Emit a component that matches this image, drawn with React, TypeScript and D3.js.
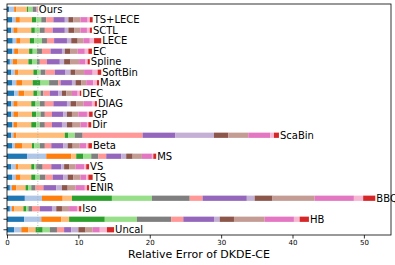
import React, { useRef, useEffect } from 'react';
import * as d3 from 'd3';

const methods = ['Ours', 'TS+LECE', 'SCTL', 'LECE', 'EC', 'Spline', 'SoftBin', 'Max', 'DEC', 'DIAG', 'GP', 'Dir',
  'ScaBin', 'Beta', 'MS', 'VS', 'TS', 'ENIR', 'BBQ', 'Iso', 'HB', 'Uncal'];

// one value per dataset/model setting, stacked left to right
const ours = [0.3, 0.7, 0.3, 1.5, 0.2, 0.6, 0.5, 0.05, 0.05, 0.02, 0.02, 0.02, 0.02, 0.02, 0.02];
const tsLece = [0.7, 0.5, 0.6, 1.7, 0.6, 0.7, 0.7, 1.0, 1.6, 0.5, 0.7, 1.0, 1.0, 0.3, 0.4];
const sctl = [0.6, 0.3, 0.6, 1.9, 0.5, 0.7, 0.7, 1.1, 1.7, 0.5, 0.8, 0.9, 0.9, 0.4, 0.3];
const lece = [0.8, 0.5, 0.6, 1.3, 0.6, 1.1, 0.7, 1.0, 1.8, 0.6, 0.9, 0.8, 0.9, 0.6, 1.0];
const ec = [0.7, 0.3, 0.6, 1.5, 0.5, 0.6, 0.7, 1.2, 1.6, 0.4, 0.8, 1.0, 1.0, 0.5, 0.5];
const spline = [0.4, 0.4, 0.6, 1.6, 0.5, 0.7, 0.4, 1.0, 1.8, 0.6, 0.9, 1.2, 0.9, 0.3, 0.3];
const softBin = [0.6, 0.5, 0.5, 2.1, 0.5, 0.5, 0.7, 1.3, 1.5, 0.7, 0.7, 1.2, 1.2, 0.7, 0.5];
const max = [0.7, 0.6, 0.8, 1.5, 1.1, 1.2, 1.3, 0.3, 1.6, 0.5, 0.8, 0.7, 1.0, 0.5, 0.3];
const dec = [1.0, 0.6, 0.8, 1.3, 0.5, 0.5, 0.4, 0.9, 1.2, 0.5, 0.6, 0.8, 0.8, 0.3, 0.2];
const diag = [0.6, 0.3, 0.6, 1.9, 0.6, 0.6, 0.7, 1.2, 1.9, 0.5, 0.8, 1.0, 1.2, 0.4, 0.3];
const gp = [0.6, 0.3, 0.7, 1.9, 0.6, 0.6, 0.6, 1.0, 1.6, 0.5, 0.7, 0.9, 1.2, 0.3, 0.5];
const dir = [0.7, 0.2, 0.5, 2.0, 0.7, 0.5, 0.7, 1.0, 1.4, 0.7, 0.8, 1.1, 0.9, 0.2, 0.4];
const scaBin = [0.6, 0.3, 0.4, 6.8, 0.5, 0.9, 1.1, 8.4, 4.6, 5.4, 2.0, 2.8, 3.1, 0.5, 0.7];
const beta = [0.7, 0.4, 1.0, 1.4, 0.3, 0.8, 0.7, 0.9, 1.7, 0.6, 0.7, 1.0, 0.9, 0.3, 0.5];
const ms = [2.8, 2.7, 3.5, 0.7, 1.0, 1.1, 1.0, 1.1, 2.1, 0.7, 0.9, 1.3, 1.4, 0.2, 0.4];
const vs = [0.6, 0.6, 0.4, 1.8, 0.4, 0.3, 0.9, 1.2, 1.4, 0.4, 0.7, 0.9, 1.2, 0.3, 0.4];
const ts = [0.7, 0.5, 0.7, 1.5, 0.6, 0.6, 0.8, 1.0, 1.5, 0.6, 0.8, 1.0, 0.8, 0.3, 0.6];
const enir = [0.4, 0.3, 0.6, 1.3, 0.4, 0.4, 0.6, 1.1, 1.8, 0.8, 0.8, 1.1, 1.3, 0.3, 0.3];
const bbq = [2.5, 2.4, 2.9, 1.3, 5.6, 5.6, 5.3, 1.8, 6.2, 1.1, 2.5, 5.9, 5.5, 1.3, 1.7];
const iso = [0.4, 0.3, 0.3, 1.3, 0.4, 0.3, 0.5, 1.1, 1.7, 0.6, 0.8, 1.0, 1.1, 0.3, 0.3];
const hb = [2.4, 2.4, 2.8, 1.1, 5.0, 4.5, 4.8, 1.7, 4.3, 0.8, 2.0, 4.3, 4.1, 0.8, 1.3];
const uncal = [1.0, 1.0, 1.0, 1.0, 1.0, 1.0, 1.0, 1.0, 1.0, 1.0, 1.0, 1.0, 1.0, 1.0, 1.0];

const series = [ours, tsLece, sctl, lece, ec, spline, softBin, max, dec, diag, gp, dir,
  scaBin, beta, ms, vs, ts, enir, bbq, iso, hb, uncal];

const xTicks = [0, 10, 20, 30, 40, 50];

const colors = ['#1f77b4', '#aec7e8', '#ff7f0e', '#ffbb78', '#2ca02c', '#98df8a', '#7f7f7f', '#ff9896',
  '#9467bd', '#c5b0d5', '#8c564b', '#c49c94', '#e377c2', '#f7b6d2', '#d62728'];

const width = 395;
const height = 265;
const margin = { top: 4, right: 4, bottom: 30, left: 7 };

const App: React.FC = () => {
  const svgRef = useRef<SVGSVGElement>(null);

  useEffect(() => {
    if (!svgRef.current) return;
    const svg = d3.select(svgRef.current);
    svg.selectAll('*').remove();

    const x = d3.scaleLinear().domain([0, 53.8]).range([margin.left, width - margin.right]);
    const y = d3.scaleBand<string>()
      .domain(methods)
      .range([margin.top, height - margin.bottom])
      .paddingInner(0.5)
      .paddingOuter(0.25);

    const rows = methods.map((name, i) => {
      const vals = series[i];
      let acc = 0;
      const segs = vals.map((v, j) => {
        const s = { x0: acc, x1: acc + v, color: colors[j] };
        acc += v;
        return s;
      });
      return { name, segs, total: acc };
    });

    const font = 'DejaVu Sans, sans-serif';

    const g = svg.append('g');
    rows.forEach(r => {
      g.selectAll(null)
        .data(r.segs)
        .enter().append('rect')
        .attr('x', d => x(d.x0))
        .attr('width', d => Math.max(0, x(d.x1) - x(d.x0)))
        .attr('y', y(r.name)!)
        .attr('height', y.bandwidth())
        .attr('fill', d => d.color);

      g.append('text')
        .attr('x', x(r.total) + 1)
        .attr('y', y(r.name)! + y.bandwidth() / 2)
        .attr('dy', '0.36em')
        .attr('font-family', font)
        .attr('font-size', 10)
        .attr('fill', '#000')
        .text(r.name);
    });

    // reference line at our total
    const ref = rows[0].total;
    svg.append('line')
      .attr('x1', x(ref)).attr('x2', x(ref))
      .attr('y1', margin.top).attr('y2', height - margin.bottom)
      .attr('stroke', '#aaa')
      .attr('stroke-width', 0.8)
      .attr('stroke-dasharray', '1,1.6');

    // frame
    svg.append('rect')
      .attr('x', margin.left).attr('y', margin.top)
      .attr('width', width - margin.right - margin.left)
      .attr('height', height - margin.bottom - margin.top)
      .attr('fill', 'none')
      .attr('stroke', '#000')
      .attr('stroke-width', 0.8);

    // y ticks (no labels)
    svg.append('g')
      .selectAll('line')
      .data(methods)
      .enter().append('line')
      .attr('x1', margin.left - 3.5).attr('x2', margin.left)
      .attr('y1', d => y(d)! + y.bandwidth() / 2)
      .attr('y2', d => y(d)! + y.bandwidth() / 2)
      .attr('stroke', '#000')
      .attr('stroke-width', 0.8);

    const xAxis = svg.append('g')
      .attr('transform', `translate(0,${height - margin.bottom})`)
      .call(d3.axisBottom(x).tickValues(xTicks).tickSize(3.5).tickPadding(2).tickFormat(d3.format('d')));
    xAxis.select('.domain').remove();
    xAxis.selectAll('line').attr('stroke-width', 0.8);
    xAxis.selectAll('text').attr('font-family', font).attr('font-size', 7).attr('fill', '#000');

    svg.append('text')
      .attr('x', (margin.left + width - margin.right) / 2)
      .attr('y', height - 7)
      .attr('text-anchor', 'middle')
      .attr('font-family', font)
      .attr('font-size', 11)
      .attr('fill', '#000')
      .text('Relative Error of DKDE-CE');
  }, []);

  return (
    <div>
      <svg ref={svgRef} width={width} height={height}
        style={{ position: 'absolute', left: 0, top: 0, background: '#fff' }} />
    </div>
  );
};

export default App;
